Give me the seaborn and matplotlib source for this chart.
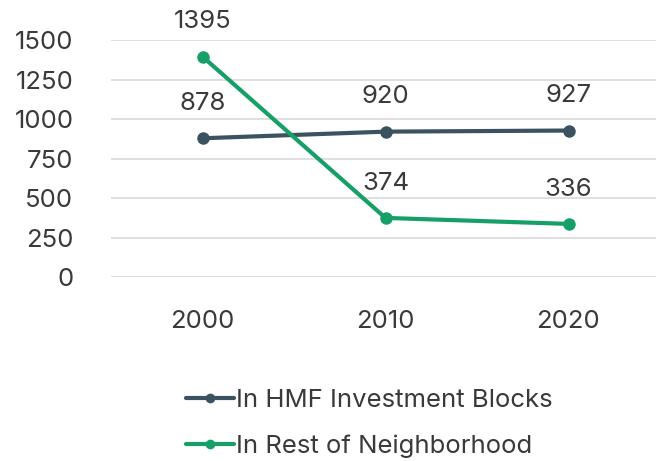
import matplotlib
matplotlib.use("Agg")
import matplotlib.pyplot as plt
import seaborn as sns
import pandas as pd

years = ["2000", "2010", "2020"]
hmf_blocks = [878, 920, 927]
rest_neighborhood = [1395, 374, 336]
series_names = ["In HMF Investment Blocks", "In Rest of Neighborhood"]
y_ticks = [0, 250, 500, 750, 1000, 1250, 1500]

colors = {series_names[0]: "#3b5260", series_names[1]: "#16a068"}
text_color = "#3a3a3a"

df = pd.DataFrame({
    "year": years * 2,
    "value": hmf_blocks + rest_neighborhood,
    "series": [series_names[0]] * 3 + [series_names[1]] * 3,
})

sns.set_style("white")
plt.rcParams["font.family"] = ["Inter", "DejaVu Sans"]

W, H = 656, 461
fig = plt.figure(figsize=(W / 100, H / 100), dpi=100)
left, right, bottom, top = 111, 660, 277, 40
ax = fig.add_axes([left / W, 1 - bottom / H, (right - left) / W, (bottom - top) / H])

sns.lineplot(data=df, x="year", y="value", hue="series", palette=colors,
             marker="o", markersize=9, markeredgewidth=0, linewidth=3,
             ax=ax, legend=False, zorder=3)
for line in ax.lines:
    line.set_clip_on(False)

fs = 18.5
for name in series_names:
    sub = df[df["series"] == name]
    for i, v in enumerate(sub["value"]):
        ax.annotate(f"{v}", (i, v), xytext=(0, 25), textcoords="offset points",
                    ha="center", va="center", fontsize=fs, color=text_color,
                    annotation_clip=False)

ax.set_xlim(-0.5, 2.5)
ax.set_ylim(0, 1500)
ax.set_yticks(y_ticks)
ax.set_yticklabels([str(t) for t in y_ticks])
ax.grid(axis="y", color="#d9d9d9", linewidth=1.2)
ax.grid(axis="x", visible=False)
for s in ax.spines.values():
    s.set_visible(False)
ax.tick_params(axis="y", length=0, pad=27, labelsize=fs, labelcolor=text_color)
ax.tick_params(axis="x", length=0, pad=24, labelsize=fs, labelcolor=text_color)
ax.set_xlabel("")
ax.set_ylabel("")

handles = [plt.Line2D([], [], color=colors[n], linewidth=3, marker="o",
                      markersize=7, markeredgewidth=0) for n in series_names]
fig.legend(handles, series_names, loc="upper left",
           bbox_to_anchor=(176 / W, 1 - 379 / H), frameon=False,
           fontsize=fs, labelcolor=text_color, handlelength=1.85,
           handletextpad=0.1, labelspacing=0.85, borderaxespad=0)

fig.savefig("out.png", dpi=100)
